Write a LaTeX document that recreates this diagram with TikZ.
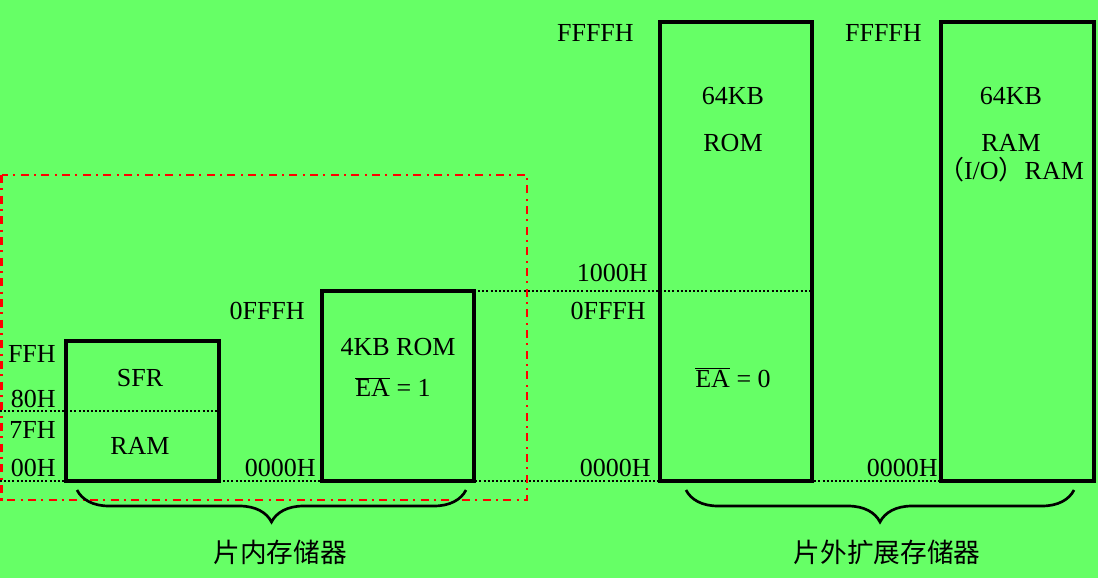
\documentclass[tikz,border=0pt]{standalone}
\usepackage{fontspec}
\setmainfont{Liberation Serif}
\newfontfamily\cjk{Noto Sans CJK SC}
\usetikzlibrary{decorations.pathreplacing}
\definecolor{bggreen}{RGB}{102,255,102}
\definecolor{linered}{RGB}{255,0,0}

\begin{document}
\begin{tikzpicture}[x=0.75pt, y=-0.75pt,
  box/.style={line width=2.3pt},
  guide/.style={line width=1.6pt, dash pattern=on 1.5pt off 1.6pt},
  addr/.style={anchor=east, inner sep=0pt, font=\fontsize{19.5}{22}\selectfont},
  lbl/.style={inner sep=0pt, font=\fontsize{19.5}{22}\selectfont},
  title/.style={inner sep=0pt, font=\cjk\fontsize{20}{24}\selectfont},
  bracket/.style={decorate, decoration={brace, amplitude=24pt}, line width=2pt}]
  \fill[bggreen] (0,0) rectangle (1098,578);
  \useasboundingbox (0,0) rectangle (1098,578);

  % guide lines
  \draw[guide] (0,411) -- (219,411);
  \draw[guide] (0,481) -- (940,481);
  \draw[guide] (474,291) -- (812,291);

  % on-chip region
  \draw[linered, line width=1.6pt, dash pattern=on 6pt off 4pt on 1.5pt off 4pt]
    (1.5,175) rectangle (527,500);

  % memory blocks
  \draw[box] (66,341) rectangle (219,481);
  \draw[box] (322,291) rectangle (474,481);
  \draw[box] (660,22) rectangle (812,481);
  \draw[box] (941,22) rectangle (1094,481);

  % addresses
  \node[addr] (ffh) at (56,354) {FFH};
  \node[addr] (h80) at (56,399) {80H};
  \node[addr] (h7f) at (56,430) {7FH};
  \node[addr] (h00) at (56,468) {00H};
  \node[addr] (lo1) at (316,468) {0000H};
  \node[addr] (hi1) at (305,311) {0FFFH};
  \node[addr] (hi2) at (634,33) {FFFFH};
  \node[addr] (mid2) at (648,273) {1000H};
  \node[addr] (top2) at (646,311) {0FFFH};
  \node[addr] (lo2) at (651,468) {0000H};
  \node[addr] (hi3) at (922,33) {FFFFH};
  \node[addr] (lo3) at (938,468) {0000H};

  % block texts
  \node[lbl] (sfr) at (140,378) {SFR};
  \node[lbl] (iram) at (140,446) {RAM};
  \node[lbl] (irom) at (398,347) {4KB ROM};
  \node[lbl] (ea1) at (393,387) {\(\overline{\hbox{EA}}\) = 1};
  \node[lbl] (xsize) at (733,96) {64KB};
  \node[lbl] (xrom) at (733,143) {ROM};
  \node[lbl] (ea0) at (733,378) {\(\overline{\hbox{EA}}\) = 0};
  \node[lbl] (rsize) at (1011,96) {64KB};
  \node[lbl] (xram) at (1011,143) {RAM};
  \node[lbl] (xio) at (1011,170) {{\cjk （}I/O{\cjk ）}RAM};

  % braces
  \draw[bracket] (466,490) -- (77,490);
  \draw[bracket] (1074,490) -- (686,490);
  \node[title] (inner) at (280,552) {片内存储器};
  \node[title] (outer) at (887,552) {片外扩展存储器};
\end{tikzpicture}
\end{document}
